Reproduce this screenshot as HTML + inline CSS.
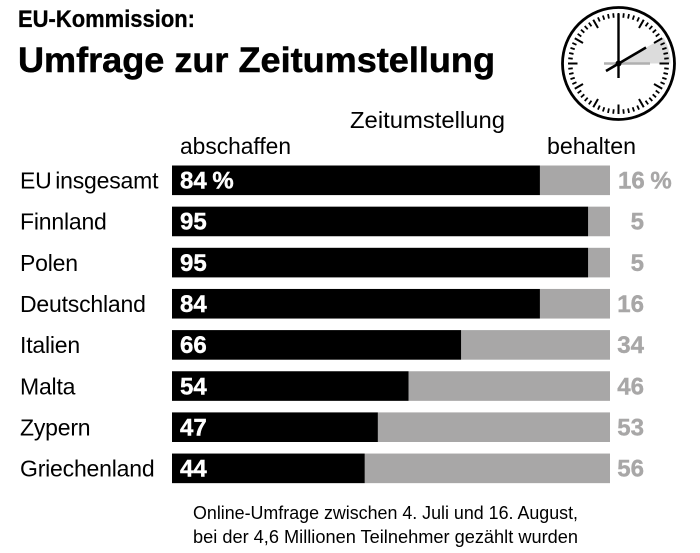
<!DOCTYPE html>
<html lang="de">
<head>
<meta charset="utf-8">
<title>EU-Kommission: Umfrage zur Zeitumstellung</title>
<style>
html,body{margin:0;padding:0;background:#fff;width:700px;height:553px;overflow:hidden}
svg{display:block;font-family:"Liberation Sans",sans-serif}
</style>
</head>
<body>
<svg id="chart" width="700" height="553" viewBox="0 0 700 553" xmlns="http://www.w3.org/2000/svg">
  <text x="18" y="27" font-size="24" font-weight="700" stroke="#000" stroke-width="0.3" textLength="177" lengthAdjust="spacingAndGlyphs">EU-Kommission:</text>
  <text x="18" y="72" font-size="35" font-weight="700" stroke="#000" stroke-width="0.5" textLength="477" lengthAdjust="spacingAndGlyphs">Umfrage zur Zeitumstellung</text>
  <text x="350" y="128" font-size="23" textLength="155" lengthAdjust="spacingAndGlyphs">Zeitumstellung</text>
  <text x="180" y="154" font-size="23" textLength="111" lengthAdjust="spacingAndGlyphs">abschaffen</text>
  <text x="547" y="154" font-size="23" textLength="89" lengthAdjust="spacingAndGlyphs">behalten</text>
  <g id="rows"></g>
  <text x="193" y="519" font-size="18" textLength="385" lengthAdjust="spacingAndGlyphs">Online-Umfrage zwischen 4. Juli und 16. August,</text>
  <text x="193" y="543" font-size="18" textLength="385" lengthAdjust="spacingAndGlyphs">bei der 4,6 Millionen Teilnehmer gezählt wurden</text>
  <g id="clock">
    <circle cx="618.5" cy="63.5" r="56" fill="#fff" stroke="#000" stroke-width="2.8"/>
    <path d="M618.5 63.5 L663.5 37.5 A52 52 0 0 1 670.5 63.5 Z" fill="#dcdcdc"/>
    <g id="ticks"></g>
    <line x1="604" y1="63.5" x2="650" y2="63.5" stroke="#b0b0b0" stroke-width="2.4"/>
    <line x1="618.5" y1="14" x2="618.5" y2="78" stroke="#000" stroke-width="2.4"/>
    <line x1="606" y1="71" x2="646" y2="47.5" stroke="#000" stroke-width="2.6"/>
    <circle cx="618.5" cy="63.5" r="3" fill="#000"/>
  </g>
</svg>
<script>
const categories = ["EU insgesamt", "Finnland", "Polen", "Deutschland", "Italien", "Malta", "Zypern", "Griechenland"];
const abschaffen = [84, 95, 95, 84, 66, 54, 47, 44];
const behalten = [16, 5, 5, 16, 34, 46, 53, 56];

const NS = "http://www.w3.org/2000/svg";
const plotLeft = 172, plotWidth = 438, rowStart = 165.5, rowStep = 41.15, barHeight = 29.6;
const xScale = v => plotWidth * v / 100;
const yScale = i => rowStart + rowStep * i;
const rows = document.getElementById("rows");

function make(tag, attrs, text) {
  const el = document.createElementNS(NS, tag);
  for (const k in attrs) el.setAttribute(k, attrs[k]);
  if (text !== undefined) el.textContent = text;
  return el;
}

categories.forEach((name, i) => {
  const y = yScale(i);
  const base = y + barHeight / 2 + 8.2;
  const slug = name.toLowerCase().replace(/\s+/g, "-");

  const label = make("text", {"font-size": 23, x: 20, y: base, "word-spacing": -2.5, "letter-spacing": -0.2}, name);
  
  
  rows.appendChild(label);

  const keepW = xScale(behalten[i]);
  const keep = make("rect", {x: plotLeft + plotWidth - keepW, y: y, width: keepW, height: barHeight, fill: "#a8a7a7"});
  
  
  rows.appendChild(keep);

  const drop = make("rect", {x: plotLeft, y: y, width: xScale(abschaffen[i]), height: barHeight, fill: "#000"});
  
  
  rows.appendChild(drop);

  const dropVal = make("text", {x: 180, y: base, "font-size": 24, "font-weight": 700, fill: "#fff", stroke: "#fff", "stroke-width": 0.4, "word-spacing": -1}, abschaffen[i] + (i === 0 ? " %" : ""));
  
  
  rows.appendChild(dropVal);

  const keepAttrs = {y: base, "font-size": 24, "font-weight": 700, fill: "#a8a7a7", stroke: "#a8a7a7", "stroke-width": 0.4, "word-spacing": -1};
  if (i === 0) { keepAttrs.x = 618; } else { keepAttrs.x = 644; keepAttrs["text-anchor"] = "end"; }
  const keepVal = make("text", keepAttrs, behalten[i] + (i === 0 ? " %" : ""));
  
  
  rows.appendChild(keepVal);
});

const ticks = document.getElementById("ticks");
for (let m = 0; m < 60; m++) {
  const a = m * Math.PI / 30;
  const major = m % 5 === 0;
  const outer = 50.5, inner = major ? 41 : 46;
  const t = make("line", {
    x1: 618.5 + Math.sin(a) * inner, y1: 63.5 - Math.cos(a) * inner,
    x2: 618.5 + Math.sin(a) * outer, y2: 63.5 - Math.cos(a) * outer,
    stroke: "#000", "stroke-width": major ? 2 : 1.8
  });
  
  
  ticks.appendChild(t);
}
</script>
</body>
</html>
